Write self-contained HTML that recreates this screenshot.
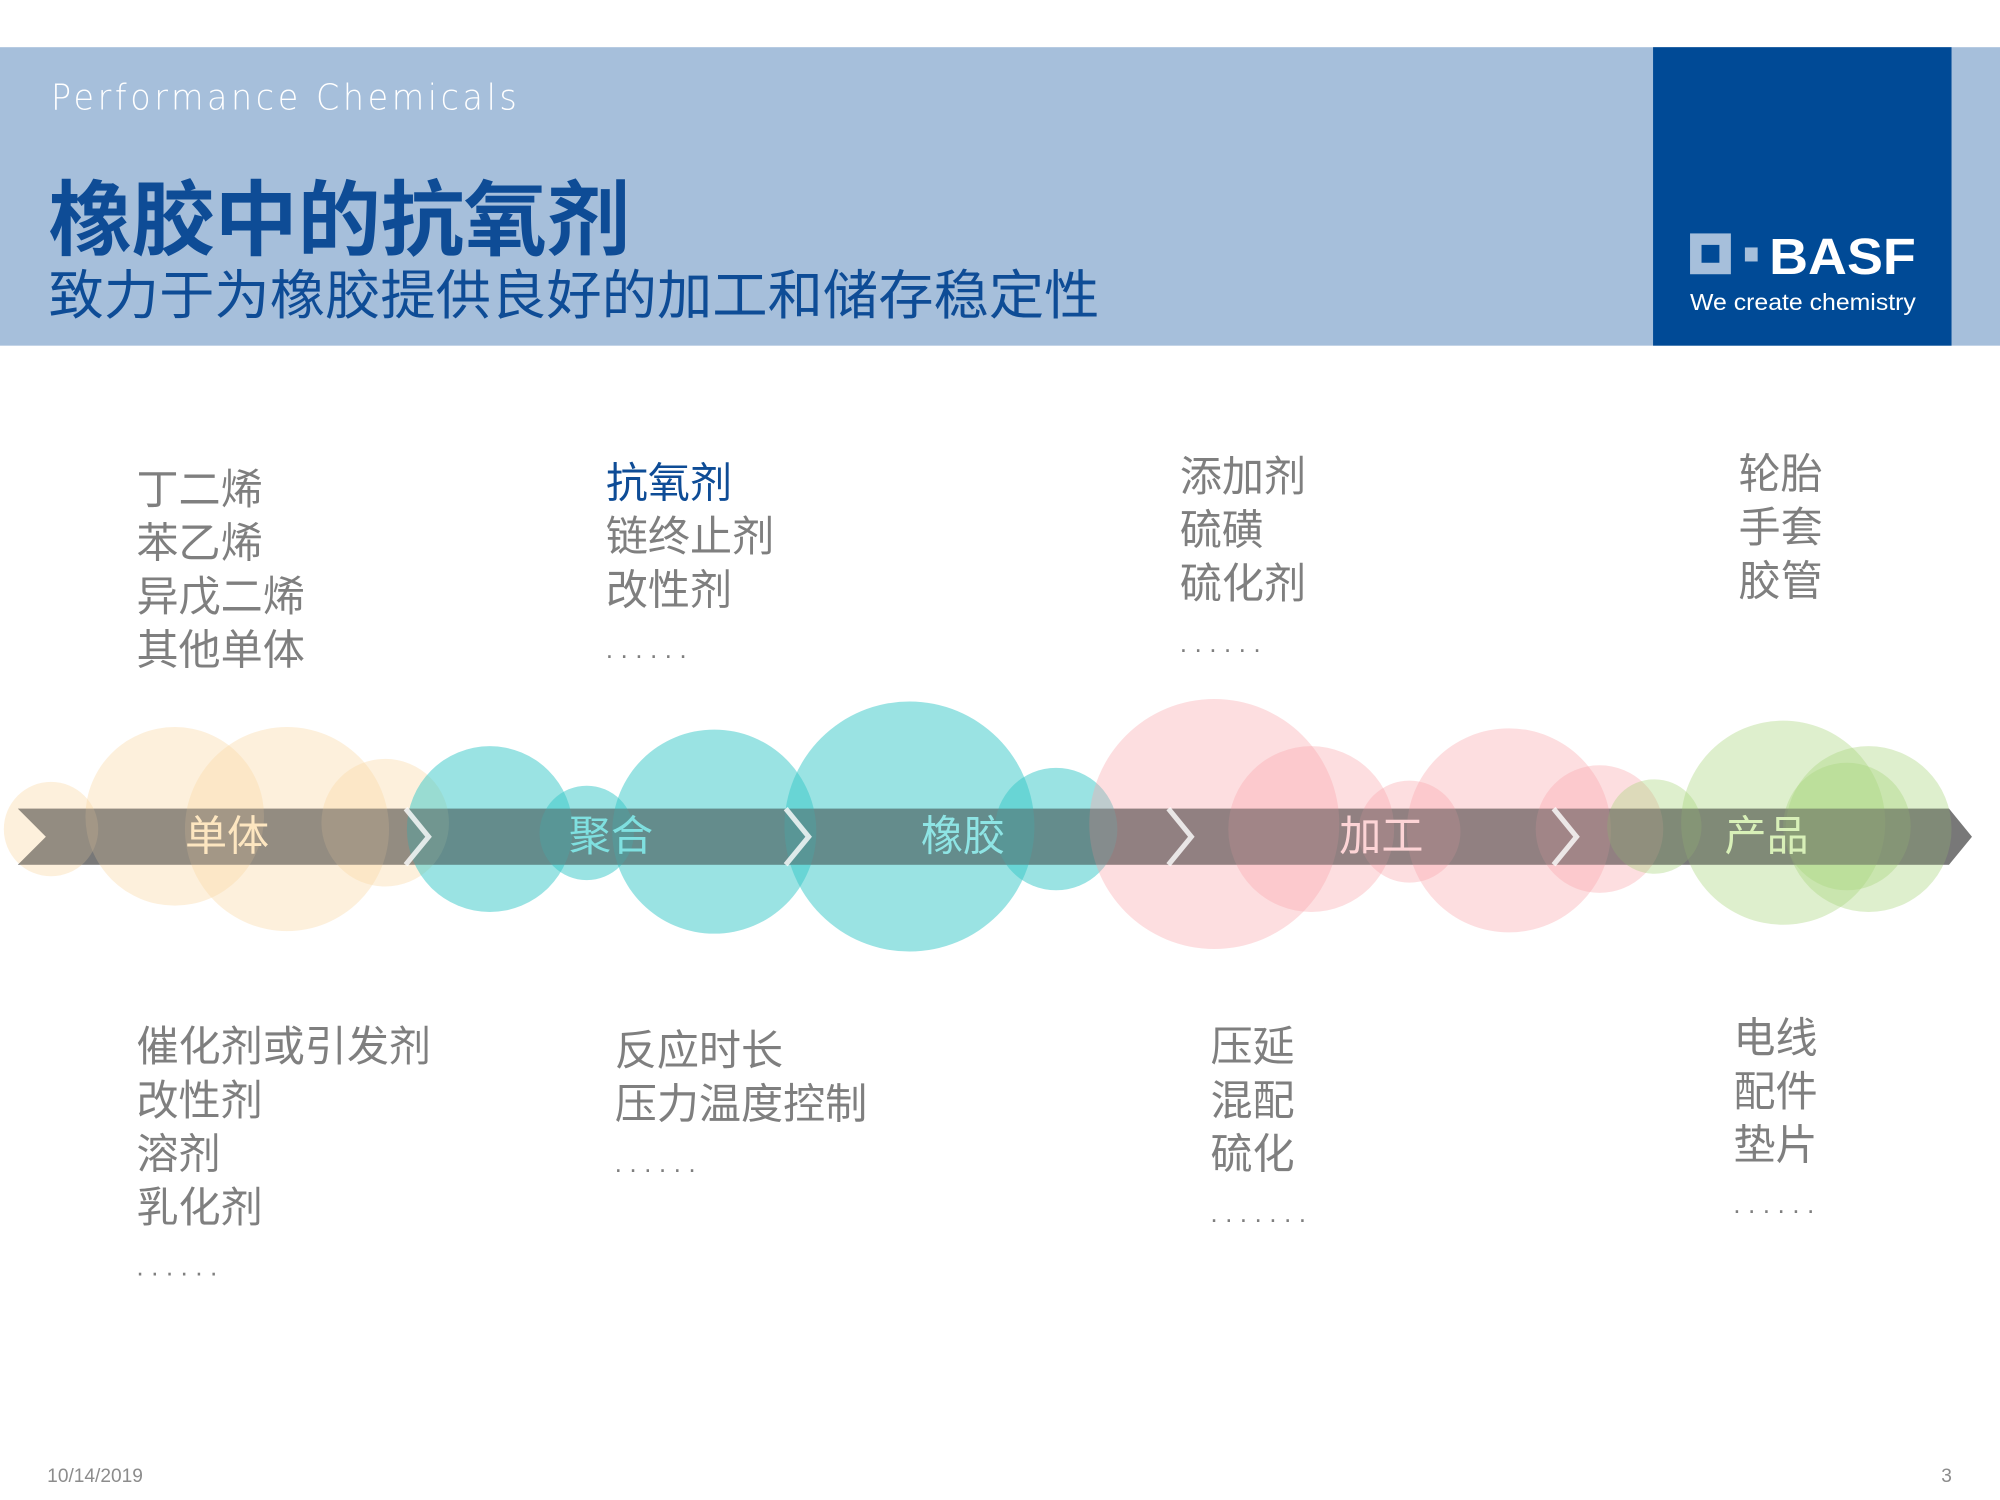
<!DOCTYPE html>
<html><head><meta charset="utf-8"><style>
html,body{margin:0;padding:0;background:#fff;}
svg{display:block;}
text{font-family:"Liberation Sans","Noto Sans CJK SC",sans-serif;}
</style></head><body>
<svg width="2000" height="1500" viewBox="0 0 1568 1176" xmlns="http://www.w3.org/2000/svg">
<rect x="0" y="0" width="1568" height="1176" fill="#fff"/>
<rect x="0" y="37" width="1568" height="234" fill="#a6bfdb"/>
<rect x="1296" y="37" width="234" height="234" fill="#004a96"/>
<text x="40" y="86" font-size="28" fill="#fff" font-weight="300" letter-spacing="3" style="font-family:'DejaVu Sans','Liberation Sans',sans-serif" textLength="368" lengthAdjust="spacingAndGlyphs">Performance Chemicals</text>
<text x="38" y="195" font-size="64" font-weight="bold" fill="#0e4c96" textLength="456" lengthAdjust="spacingAndGlyphs">橡胶中的抗氧剂</text>
<text x="38" y="246" font-size="42" fill="#0e4c96" textLength="824" lengthAdjust="spacingAndGlyphs">致力于为橡胶提供良好的加工和储存稳定性</text>
<rect x="1325" y="183" width="32" height="32" fill="#a6bfdb"/>
<rect x="1334" y="192" width="14" height="14" fill="#004a96"/>
<rect x="1368" y="194" width="10" height="11" fill="#a6bfdb"/>
<text x="1387" y="215" font-size="40" font-weight="bold" fill="#fff" textLength="115" lengthAdjust="spacingAndGlyphs">BASF</text>
<text x="1325" y="243" font-size="18" fill="#fff" textLength="177" lengthAdjust="spacingAndGlyphs">We create chemistry</text>

<polygon points="14,634 1528,634 1546,656 1528,678 14,678 36,656" fill="#808080"/>
<g fill="#fbd9a8" fill-opacity="0.4">
<circle cx="40" cy="650" r="37"/><circle cx="137" cy="640" r="70"/><circle cx="225" cy="650" r="80"/><circle cx="302" cy="645" r="50"/>
</g>
<g fill="#35c7c7" fill-opacity="0.5">
<circle cx="384" cy="650" r="65"/><circle cx="460" cy="653" r="37"/><circle cx="560" cy="652" r="80"/><circle cx="713" cy="648" r="98"/><circle cx="828" cy="650" r="48"/>
</g>
<g fill="#fba8ad" fill-opacity="0.38">
<circle cx="952" cy="646" r="98"/><circle cx="1028" cy="650" r="65"/><circle cx="1105" cy="652" r="40"/><circle cx="1183" cy="651" r="80"/><circle cx="1254" cy="650" r="50"/>
</g>
<g fill="#a8d67c" fill-opacity="0.38">
<circle cx="1297" cy="648" r="37"/><circle cx="1398" cy="645" r="80"/><circle cx="1465" cy="650" r="65"/><circle cx="1448" cy="648" r="50"/>
</g>
<polygon points="14,634 1528,634 1546,656 1528,678 14,678 36,656" fill="#6e6e6e" opacity="0.45"/>
<g fill="none" stroke="#fff" stroke-width="4" opacity="0.8">
<polyline points="318,634 336,656 318,678"/>
<polyline points="616,634 634,656 616,678"/>
<polyline points="916,634 934,656 916,678"/>
<polyline points="1218,634 1236,656 1218,678"/>
</g>
<g font-size="33" text-anchor="middle">
<text x="178" y="667" fill="#fde6c0">单体</text>
<text x="479" y="667" fill="#7fe0e0">聚合</text>
<text x="755" y="667" fill="#8ee4e4">橡胶</text>
<text x="1083" y="667" fill="#fdd4d6">加工</text>
<text x="1385" y="667" fill="#d8f0b8">产品</text>
</g>

<g font-size="33" fill="#7f7f7f">
<text x="107" y="395">丁二烯</text><text x="107" y="437">苯乙烯</text><text x="107" y="479">异戊二烯</text><text x="107" y="521">其他单体</text>
<text x="475" y="390" fill="#0e4c96">抗氧剂</text><text x="475" y="432">链终止剂</text><text x="475" y="474">改性剂</text><text x="475" y="516" font-size="20" letter-spacing="6">......</text>
<text x="925" y="385">添加剂</text><text x="925" y="427">硫磺</text><text x="925" y="469">硫化剂</text><text x="925" y="511" font-size="20" letter-spacing="6">......</text>
<text x="1363" y="383">轮胎</text><text x="1363" y="425">手套</text><text x="1363" y="467">胶管</text>
<text x="107" y="832">催化剂或引发剂</text><text x="107" y="874">改性剂</text><text x="107" y="916">溶剂</text><text x="107" y="958">乳化剂</text><text x="107" y="1000" font-size="20" letter-spacing="6">......</text>
<text x="482" y="835">反应时长</text><text x="482" y="877">压力温度控制</text><text x="482" y="919" font-size="20" letter-spacing="6">......</text>
<text x="949" y="832">压延</text><text x="949" y="874">混配</text><text x="949" y="916">硫化</text><text x="949" y="958" font-size="20" letter-spacing="6">.......</text>
<text x="1359" y="825">电线</text><text x="1359" y="867">配件</text><text x="1359" y="909">垫片</text><text x="1359" y="951" font-size="20" letter-spacing="6">......</text>
</g>
<text x="37" y="1162" font-size="15" fill="#8c8c8c">10/14/2019</text>
<text x="1522" y="1162" font-size="15" fill="#8c8c8c">3</text>
</svg>
</body></html>
